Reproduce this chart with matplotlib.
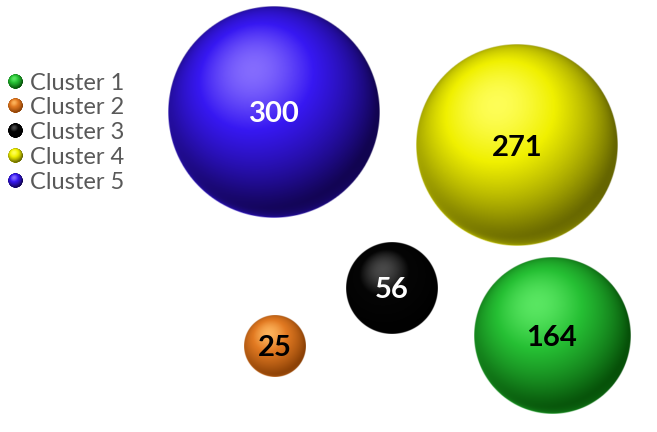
import numpy as np
import matplotlib.pyplot as plt
from matplotlib.colors import LinearSegmentedColormap
from matplotlib.legend_handler import HandlerBase
from matplotlib.image import BboxImage
from matplotlib.transforms import Bbox, TransformedBbox

# Cluster data (bubble chart: x, y, size)
labels = ['Cluster 1', 'Cluster 2', 'Cluster 3', 'Cluster 4', 'Cluster 5']
sizes = [164, 25, 56, 271, 300]
x_vals = [5.52, 2.75, 3.92, 5.17, 2.74]
y_vals = [0.96, 0.86, 1.44, 2.87, 3.20]
label_colors = ['black', 'black', 'white', 'black', 'white']

# dark / base / light tones for each sphere
tones = [
    ['#003a00', '#26c034', '#5eea66'],
    ['#7a3500', '#e27a22', '#ffb860'],
    ['#000000', '#050505', '#505050'],
    ['#4a4a00', '#f0f000', '#ffff60'],
    ['#0a0030', '#3718f2', '#8c74ff'],
]


def sphere_rgba(cols, n=300):
    cmap = LinearSegmentedColormap.from_list('s', [(0, cols[0]), (0.7, cols[1]), (1, cols[2])])
    g = np.linspace(-1, 1, n)
    X, Y = np.meshgrid(g, -g)
    r2 = X**2 + Y**2
    Z = np.sqrt(np.clip(1 - r2, 0, 1))
    L = np.array([-0.2, 0.4, 0.9])
    L = L / np.linalg.norm(L)
    d = np.clip(X * L[0] + Y * L[1] + Z * L[2], 0, 1)
    t = 0.12 + 0.7 * d**1.3
    t = t + 0.15 * d**10
    # reflected light along lower-left rim
    rim = (1 - Z) ** 4 * np.clip(-0.5 * X - 0.85 * Y, 0, 1)
    t = t + 0.45 * rim
    rgba = cmap(np.clip(t, 0, 1))
    px = 2.0 / n
    rgba[..., 3] = np.clip((1 - np.sqrt(r2)) / px + 0.5, 0, 1)
    return rgba


class SphereHandler(HandlerBase):
    def __init__(self, rgba):
        super().__init__()
        self.rgba = rgba

    def create_artists(self, legend, orig_handle, xdescent, ydescent,
                       width, height, fontsize, trans):
        size = 10.5
        cx = width / 2 - xdescent
        cy = height / 2 - ydescent
        bb = Bbox.from_bounds(cx - size / 2, cy - size / 2, size, size)
        img = BboxImage(TransformedBbox(bb, trans), interpolation='bilinear')
        img.set_data(self.rgba)
        return [img]


fig = plt.figure(figsize=(6.57, 4.32), dpi=100)
ax = fig.add_axes([0, 0, 1, 1])
ax.axis('off')

k = 1.06 / np.sqrt(300)
handles = []
hmap = {}
for i in range(len(sizes)):
    r = k * np.sqrt(sizes[i])
    rgba = sphere_rgba(tones[i])
    im = ax.imshow(rgba, extent=(x_vals[i] - r, x_vals[i] + r, y_vals[i] - r, y_vals[i] + r),
                   interpolation='bilinear', zorder=2)
    ax.text(x_vals[i], y_vals[i], str(sizes[i]), ha='center', va='center_baseline',
            fontsize=21, fontweight='bold', family='Lato', color=label_colors[i], zorder=3)
    handles.append(im)
    hmap[im] = SphereHandler(sphere_rgba(tones[i], 60))

ax.set_xlim(0, 6.57)
ax.set_ylim(0, 4.32)
ax.set_aspect('equal')

leg = ax.legend(handles, labels, handler_map=hmap, loc='upper left',
                bbox_to_anchor=(0.0046, 0.832), frameon=False,
                prop={'family': 'Lato', 'size': 17}, labelcolor='#595959',
                handlelength=1.0, handletextpad=0.13, labelspacing=0.16,
                borderaxespad=0.0, borderpad=0.0)

fig.savefig('out.png', dpi=100)
